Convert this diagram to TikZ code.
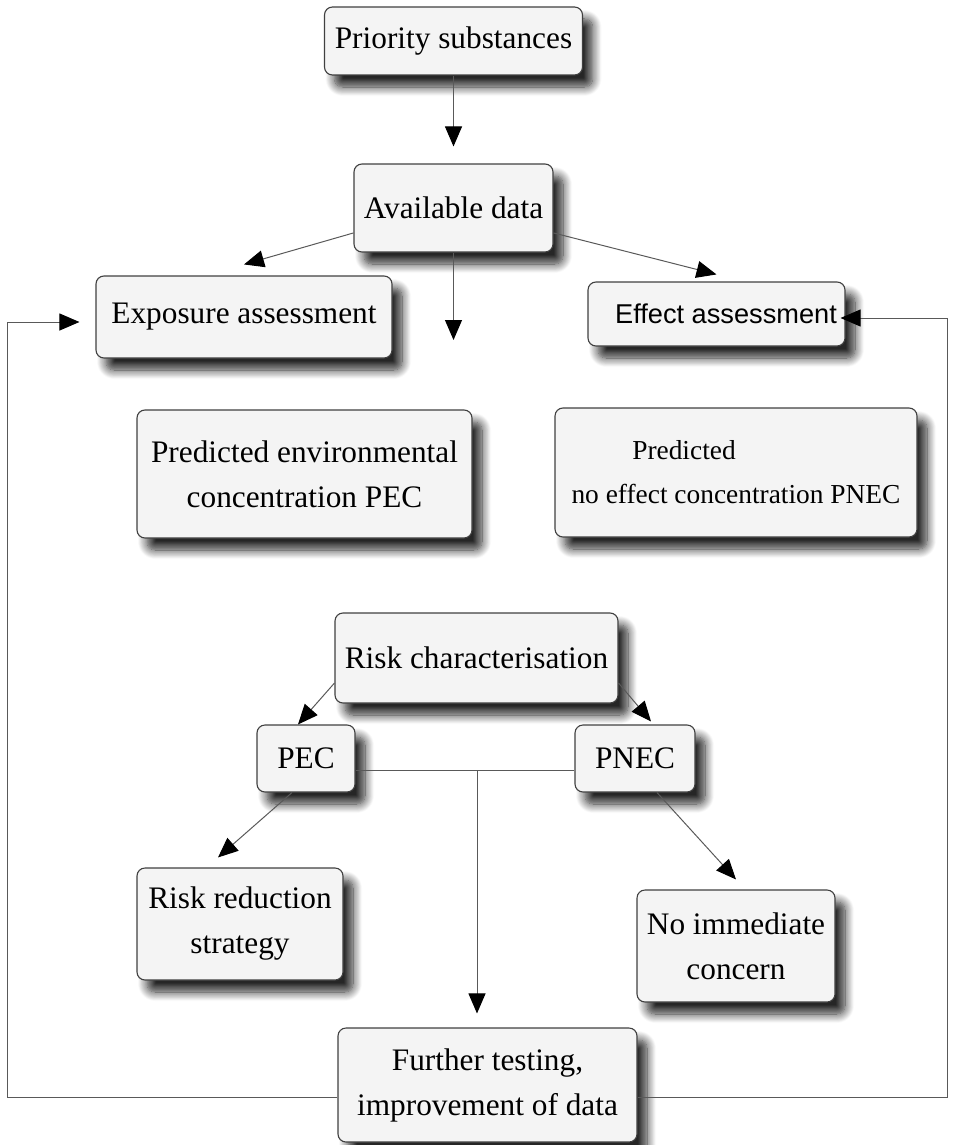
\documentclass[tikz,border=0pt]{standalone}
\usepackage{fontspec}
\setmainfont{Liberation Serif}
\newfontfamily\helv{Liberation Sans}
\usetikzlibrary{shadows.blur,arrows.meta,calc}

\begin{document}
\begin{tikzpicture}[x=1pt,y=-1pt,
  box/.style={draw=black!75, line width=1.1pt, rounded corners=8pt, fill=gray!9,
    align=center, inner sep=0pt, font=\fontsize{31.3}{45}\selectfont,
    blur shadow={shadow xshift=10pt, shadow yshift=-12pt, shadow blur radius=9pt,
      shadow blur steps=12, shadow opacity=85}},
  link/.style={draw=black!65, line width=1pt},
  arr/.style={link, -{Triangle[length=20pt,width=17pt,color=black]}}
]
\useasboundingbox (0,0) rectangle (953,1145);

% boxes
\node[box, minimum width=258pt, minimum height=68pt]  (prio)   at (453.5,41)   {Priority substances};
\node[box, minimum width=199pt, minimum height=88pt]  (avail)  at (453.5,208)  {Available data};
\node[box, minimum width=296pt, minimum height=82pt]  (expo)   at (244,317)    {Exposure assessment};
\node[box, minimum width=257pt, minimum height=64pt,
      font=\helv\fontsize{27.2}{32}\selectfont]       (effect) at (716.5,314)  {\hspace*{19pt}Effect assessment};
\node[box, minimum width=335pt, minimum height=128pt] (pec)    at (304.5,474)  {Predicted environmental\\concentration PEC};
\node[box, minimum width=362pt, minimum height=129pt,
      font=\fontsize{27.4}{44}\selectfont]            (pnec)   at (736,472.5)  {Predicted\hspace*{104pt}\\no effect concentration PNEC};
\node[box, minimum width=283pt, minimum height=90pt]  (risk)   at (476.5,658)  {Risk characterisation};
\node[box, minimum width=98pt,  minimum height=67pt]  (pecs)   at (306,758.5)  {PEC};
\node[box, minimum width=120pt, minimum height=67pt]  (pnecs)  at (635,758.5)  {PNEC};
\node[box, minimum width=206pt, minimum height=112pt] (reduce) at (240,924)    {Risk reduction\\strategy};
\node[box, minimum width=198pt, minimum height=112pt] (noimm)  at (736,946)    {No immediate\\concern};
\node[box, minimum width=299pt, minimum height=114pt] (further) at (487.5,1085) {Further testing,\\improvement of data};

% helper points
\coordinate (dataend) at (453.5,340);
\coordinate (split)   at (477,770);
\coordinate (lb) at (7,1097);
\coordinate (lt) at (7,322);
\coordinate (rb) at (947,1097);
\coordinate (rt) at (947,318);

% connectors
\draw[arr, shorten >=17pt] (prio.south) -- (avail.north);
\draw[arr] (avail.194) -- ([yshift=11pt]expo.north);
\draw[arr] (avail.346) -- ([yshift=7pt]effect.north);
\draw[arr] (avail.south) -- (dataend);

\draw[arr] (risk.190) -- ([xshift=-8pt]pecs.north);
\draw[arr] (risk.350) -- ([xshift=16pt,yshift=3pt]pnecs.north);

\draw[link] ([yshift=-11.5pt]pecs.east) -- ([yshift=-11.5pt]pnecs.west);
\draw[arr, shorten >=14pt] (split) -- (split |- further.north);

\draw[arr] ([xshift=-14pt]pecs.south) -- ([xshift=-22pt,yshift=10pt]reduce.north);
\draw[arr] ([xshift=22pt]pnecs.south) -- ([yshift=10pt]noimm.north);

% feedback loops
\draw[arr, shorten >=16pt] (further.west |- lb) -- (lb) -- (lt) -- (lt -| expo.west);
\draw[arr, shorten >=-5pt] (further.east |- rb) -- (rb) -- (rt) -- (rt -| effect.east);
\end{tikzpicture}
\end{document}
